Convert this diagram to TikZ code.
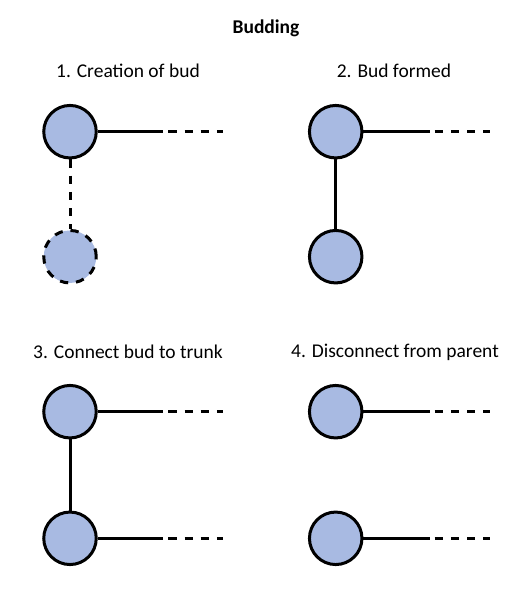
\documentclass[tikz,border=0pt]{standalone}
\usepackage{fontspec}
\setmainfont{Carlito}
\definecolor{budfill}{RGB}{168,186,226}
\tikzset{
  cell/.style={circle,draw=black,line width=3pt,fill=budfill,minimum size=52.5pt,inner sep=0pt},
  budcell/.style={cell,dash pattern=on 8.3pt off 7.9pt},
  link/.style={line width=3pt},
  dlink/.style={line width=3pt,dash pattern=on 8.3pt off 7.9pt},
  lbl/.style={font=\fontsize{19.5}{23}\selectfont},
  ttl/.style={font=\bfseries\fontsize{19.5}{23}\selectfont}
}
\begin{document}
\begin{tikzpicture}[x=1pt,y=-1pt]
\useasboundingbox (0,0) rectangle (532,599);
\node[ttl] (title) at (266,28) {Budding};
\node[lbl] (l1) at (128,71) {1. Creation of bud};
\node[lbl] (l2) at (394,71) {2. Bud formed};
\node[lbl] (l3) at (128,352) {3. Connect bud to trunk};
\node[lbl] (l4) at (395,352) {4. Disconnect from parent};
% panel 1
\node[cell] (p1a) at (70,131.7) {};
\node[budcell] (p1b) at (70,256.7) {};
\coordinate (p1s) at (163.3,131.7);
\coordinate (p1d1) at (168.3,131.7);
\coordinate (p1d2) at (223.3,131.7);
\draw[link] (p1a) -- (p1s);
\draw[dlink] (p1d1) -- (p1d2);
\draw[dlink] (p1a) -- (p1b);
% panel 2
\node[cell] (p2a) at (335.7,131.7) {};
\node[cell] (p2b) at (335.7,256.7) {};
\coordinate (p2s) at (429.7,131.7);
\coordinate (p2d1) at (434.7,131.7);
\coordinate (p2d2) at (489.7,131.7);
\draw[link] (p2a) -- (p2s);
\draw[dlink] (p2d1) -- (p2d2);
\draw[link] (p2a) -- (p2b);
% panel 3
\node[cell] (p3a) at (70,411.7) {};
\node[cell] (p3b) at (70,538.3) {};
\coordinate (p3s) at (163.3,411.7);
\coordinate (p3d1) at (168.3,411.7);
\coordinate (p3d2) at (223.3,411.7);
\coordinate (p3t) at (163.3,538.3);
\coordinate (p3e1) at (168.3,538.3);
\coordinate (p3e2) at (223.3,538.3);
\draw[link] (p3a) -- (p3s);
\draw[dlink] (p3d1) -- (p3d2);
\draw[link] (p3b) -- (p3t);
\draw[dlink] (p3e1) -- (p3e2);
\draw[link] (p3a) -- (p3b);
% panel 4
\node[cell] (p4a) at (335.7,411.7) {};
\node[cell] (p4b) at (335.7,538.3) {};
\coordinate (p4s) at (429.7,411.7);
\coordinate (p4d1) at (434.7,411.7);
\coordinate (p4d2) at (489.7,411.7);
\coordinate (p4t) at (429.7,538.3);
\coordinate (p4e1) at (434.7,538.3);
\coordinate (p4e2) at (489.7,538.3);
\draw[link] (p4a) -- (p4s);
\draw[dlink] (p4d1) -- (p4d2);
\draw[link] (p4b) -- (p4t);
\draw[dlink] (p4e1) -- (p4e2);
\end{tikzpicture}
\end{document}
